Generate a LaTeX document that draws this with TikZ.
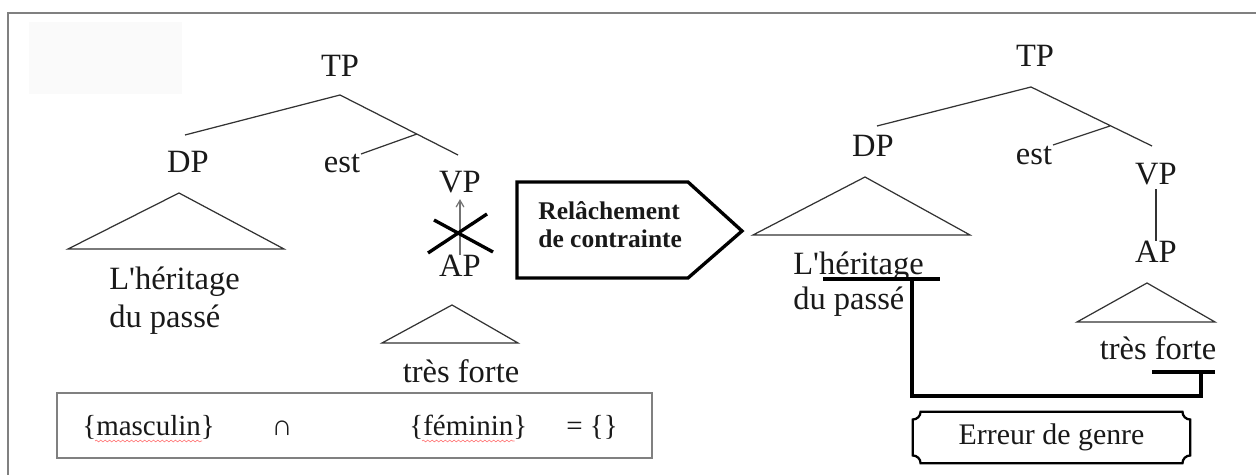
\documentclass[tikz,border=0pt]{standalone}
\usepackage{fontspec}
\setmainfont{Liberation Serif}
\usetikzlibrary{positioning,arrows,shapes,calc,decorations.pathmorphing}

\begin{document}
\begin{tikzpicture}[
  x=0.02cm, y=-0.02cm,
  every node/.style={inner sep=0pt,text=black!90,font=\fontsize{18.5}{22}\selectfont},
  lbl/.style={anchor=base},
  leaf/.style={anchor=base west},
  branch/.style={draw=black!80,line width=0.7pt},
  heavy/.style={draw=black,line width=1.9pt},
  frame/.style={draw=black!50,line width=1.2pt},
  spell/.style={draw=red!55,line width=0.35pt,decorate,decoration={snake,amplitude=0.5pt,segment length=2.5pt}},
  small/.style={font=\fontsize{16.5}{20}\selectfont},
  notice/.style={font=\bfseries\fontsize{14.5}{17}\selectfont}]

  \useasboundingbox (0,0) rectangle (1256,475);
  \clip (0,0) rectangle (1256,475);
  \fill[black!2] (29,22) rectangle (182,94);
  \draw[frame] (8,13) rectangle (1290,500);

  % left tree
  \node[lbl] (tp1) at (340,77) {TP};
  \node[lbl] (dp1) at (188,173) {DP};
  \node[lbl] (est1) at (342,173) {est};
  \node[lbl] (vp1) at (460,193) {VP};
  \node[lbl] (ap1) at (460,277) {AP};
  \node[leaf] (her1) at (109,290) {L\textquotesingle héritage};
  \node[leaf] (pas1) at (109,328) {du passé};
  \node[lbl] (tf1) at (461,383) {très forte};
  \coordinate (tp1b) at (340,95);
  \coordinate (dp1b) at (185,135);
  \coordinate (vp1b) at (458,155);
  \coordinate (est1j) at (417,134);
  \coordinate (est1b) at (361,154);
  \draw[branch] (dp1b) -- (tp1b) -- (vp1b) (est1j) -- (est1b);
  \draw[branch] (179,193) -- (68,249) -- (284,249) -- cycle;
  \draw[branch] (452,305) -- (382,343) -- (518,343) -- cycle;
  \draw[branch,draw=black!55,-angle 60,shorten >=3pt] (ap1.north) -- (vp1.south);
  \draw[heavy] (428,253) -- (487,214) (434,220) -- (493,252);

  \draw[heavy] (517,182) -- (688,182) -- (742,231) -- (688,278) -- (517,278) -- cycle;
  \node[leaf,notice] (rel) at (538,220) {Relâchement};
  \node[leaf,notice] (con) at (538,248) {de contrainte};

  \draw[frame] (57,393) rectangle (652,458);
  \node[leaf,small] (masc) at (82,436) {\{masculin\}};
  \node[lbl,small] (inter) at (282,436) {∩};
  \node[leaf,small] (fem) at (409,436) {\{féminin\}};
  \node[leaf,small] (vide) at (566,436) {= \{\}};
  \draw[spell] ($(masc.base west)+(13,5)$) -- ($(masc.base east)+(-13,5)$);
  \draw[spell] ($(fem.base west)+(13,5)$) -- ($(fem.base east)+(-13,5)$);

  % right tree
  \node[lbl] (tp2) at (1035,67) {TP};
  \node[lbl] (dp2) at (873,157) {DP};
  \node[lbl] (est2) at (1034,165) {est};
  \node[lbl] (vp2) at (1156,185) {VP};
  \node[lbl] (ap2) at (1156,263) {AP};
  \node[leaf] (her2) at (793,275) {L\textquotesingle héritage};
  \node[leaf] (pas2) at (793,310) {du passé};
  \node[lbl] (tf2) at (1158,360) {très forte};
  \coordinate (tp2b) at (1031,87);
  \coordinate (dp2b) at (877,126);
  \coordinate (vp2b) at (1152,146);
  \coordinate (est2j) at (1110,126);
  \coordinate (est2b) at (1053,145);
  \draw[branch] (dp2b) -- (tp2b) -- (vp2b) (est2j) -- (est2b);
  \draw[branch,shorten <=2pt] (vp2.south) -- (ap2.north);
  \draw[branch] (865,177) -- (753,235) -- (970,235) -- cycle;
  \draw[branch] (1147,283) -- (1077,322) -- (1215,322) -- cycle;

  \coordinate (u1a) at (823,279);
  \coordinate (u1b) at (940,279);
  \coordinate (u1j) at (912,279);
  \coordinate (u2a) at (1152,372);
  \coordinate (u2b) at (1215,372);
  \coordinate (u2j) at (1201,372);
  \draw[heavy] (u1a) -- (u1b);
  \draw[heavy] (u2a) -- (u2b);
  \draw[heavy] (u1j) -- ++(0,117) -| (u2j);

  \node[font=\fontsize{17}{20}\selectfont,minimum width=5.54cm,minimum height=1.02cm] (err) at (1051.5,437.5) {Erreur de genre};
  \draw[line width=1.3pt] ([xshift=4.5pt]err.north west) -- ([xshift=-4.5pt]err.north east)
    arc[start angle=180,end angle=270,radius=4.5pt] -- ([yshift=4.5pt]err.south east)
    arc[start angle=90,end angle=180,radius=4.5pt] -- ([xshift=4.5pt]err.south west)
    arc[start angle=0,end angle=90,radius=4.5pt] -- ([yshift=-4.5pt]err.north west)
    arc[start angle=270,end angle=360,radius=4.5pt] -- cycle;
\end{tikzpicture}
\end{document}
